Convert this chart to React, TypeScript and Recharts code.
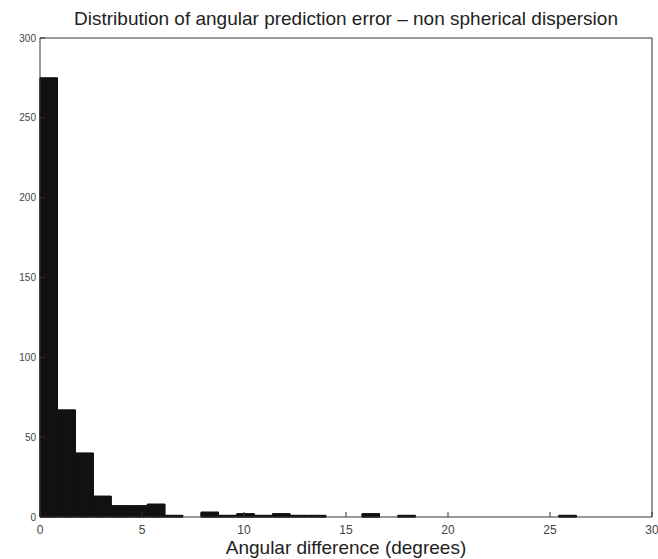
import React from 'react';
import { ComposedChart, Bar, XAxis, YAxis } from 'recharts';

// histogram of angular prediction error, 30 bins over 0..~26.3 degrees
const binWidth = 0.877;
const counts = [275, 67, 40, 13, 7, 7, 8, 1, 0, 3, 1, 2, 1, 2, 1, 1, 0, 0, 2, 0, 1, 0, 0, 0, 0, 0, 0, 0, 0, 1];
const xTicks = [0, 5, 10, 15, 20, 25, 30];
const yTicks = [0, 50, 100, 150, 200, 250, 300];

const data = counts.map((count, i) => ({ center: (i + 0.5) * binWidth, count }));

const font = '"Liberation Sans", Arial, sans-serif';
const frame = '#333';

export default function App() {
  return (
    <div style={{ position: 'absolute', left: 0, top: 0, width: 658, height: 559, background: '#fff', fontFamily: font }}>
      <div style={{ position: 'absolute', left: 40, width: 612, top: 8, textAlign: 'center', fontSize: 19, color: '#222' }}>
        Distribution of angular prediction error – non spherical dispersion
      </div>
      <ComposedChart width={658} height={559} data={data} margin={{ top: 37, right: 5, bottom: 0, left: 0 }}>
        <XAxis
          dataKey="center"
          type="number"
          domain={[0, 30]}
          ticks={xTicks}
          interval={0}
          height={42}
          tickSize={-5}
          tickMargin={13}
          stroke={frame}
          tick={{ fontSize: 12, fill: '#444', fontFamily: font }}
          label={{ value: 'Angular difference (degrees)', position: 'insideBottom', offset: 5, fontSize: 19, fill: '#222', fontFamily: font }}
        />
        {/* mirrored axes close the box, ticks pointing inward like the original */}
        <XAxis
          xAxisId="top"
          dataKey="center"
          orientation="top"
          type="number"
          domain={[0, 30]}
          ticks={xTicks}
          interval={0}
          height={1}
          tickSize={-5}
          tick={false}
          stroke={frame}
        />
        <YAxis
          type="number"
          domain={[0, 300]}
          ticks={yTicks}
          interval={0}
          width={40}
          tickSize={-5}
          tickMargin={9}
          stroke={frame}
          tick={{ fontSize: 10, fill: '#444', fontFamily: font }}
        />
        <YAxis
          yAxisId="right"
          orientation="right"
          type="number"
          domain={[0, 300]}
          ticks={yTicks}
          interval={0}
          width={1}
          tickSize={-5}
          tick={false}
          stroke={frame}
        />
        <Bar dataKey="count" fill="#111" stroke="#111" strokeWidth={1} barSize={17.5} isAnimationActive={false} />
        <Bar dataKey="count" xAxisId="top" yAxisId="right" fill="#111" stroke="#111" strokeWidth={1} barSize={17.5} isAnimationActive={false} />
      </ComposedChart>
    </div>
  );
}
